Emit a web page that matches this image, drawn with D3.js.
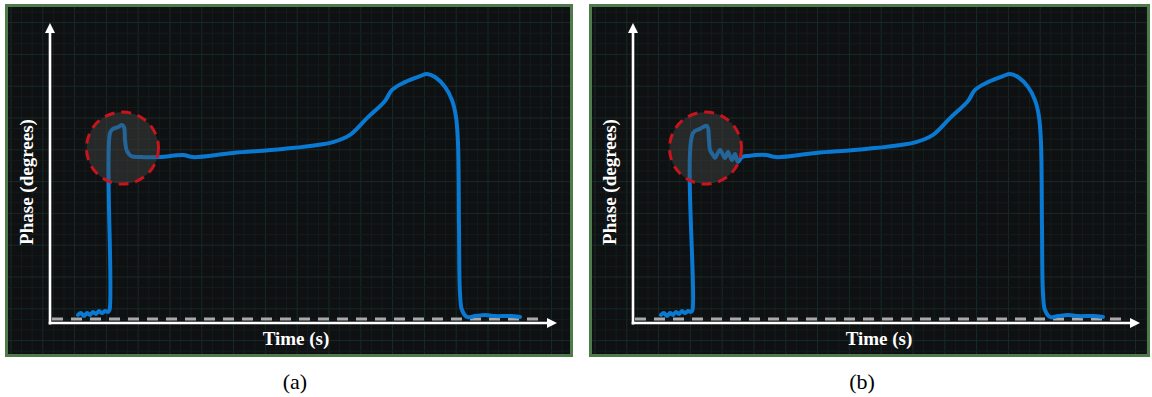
<!DOCTYPE html>
<html>
<head>
<meta charset="utf-8">
<script src="https://cdn.jsdelivr.net/npm/d3@7"></script>
<style>
  html, body { margin: 0; padding: 0; background: #ffffff; }
  svg { display: block; }
</style>
</head>
<body>
<div id="chart"></div>
<script>
// values (time in arbitrary s, phase in arbitrary degrees)
const leadTime  = [2.8, 3.1, 3.4, 3.7, 4.0, 4.3, 4.6, 4.9, 5.2, 5.5, 5.8, 5.95];
const leadPhase = [2.7, 3.3, 2.3, 3.3, 2.7, 3.7, 3.0, 4.0, 3.3, 4.0, 3.7, 4.3];

// onset spike, panel (a): clean step
const spikeATime  = [6.0, 6.3, 6.8, 7.2, 7.4, 7.5, 7.7, 8.1, 9.0, 11.0];
const spikeAPhase = [63.3, 64.7, 65.3, 66.0, 65.3, 61.0, 57.3, 55.7, 55.3, 55.3];

// onset spike, panel (b): ringing after the step
const spikeBTime  = [6.0, 6.7, 7.4, 7.6, 7.7, 8.0, 8.2, 8.7, 9.2, 9.5, 9.9, 10.2, 10.5, 10.9, 11.5];
const spikeBPhase = [63.3, 64.7, 65.7, 61.0, 57.7, 56.0, 55.0, 57.7, 55.0, 57.0, 54.3, 56.3, 53.7, 55.3, 55.7];

// plateau, peak and fall, shared by both panels
const bodyTime  = [13.3, 14.3, 18.3, 23.3, 28.3, 30.0, 31.7, 33.5, 34.2, 35.5, 37.0, 37.7, 38.5,
                   39.5, 40.2, 40.6, 40.8, 40.9, 41.0, 41.2, 41.7, 42.5, 43.5, 44.5, 46.0, 47.0];
const bodyPhase = [56.0, 55.3, 56.7, 58.0, 60.3, 62.7, 68.3, 74.0, 77.7, 80.3, 82.3, 83.0, 82.0,
                   78.7, 74.3, 68.7, 60.0, 32.0, 10.0, 4.3, 2.0, 2.3, 2.7, 2.3, 2.3, 2.0];

const baselinePhase = 1.3;
const baselineSpan = [0.2, 48.8];
const focus = { time: 7.25, phase: 58.3 };   // centre of the red highlight
const panelLabels = ["(a)", "(b)"];

const W = 1152, H = 397;
const svg = d3.select("#chart").append("svg")
    .attr("width", W)
    .attr("height", H);

const x = d3.scaleLinear().domain([0, 50.7]).range([50, 557]);
const y = d3.scaleLinear().domain([0, 100]).range([323, 23]);

const line = d3.line()
    .x(d => x(d[0]))
    .y(d => y(d[1]))
    .curve(d3.curveCatmullRom.alpha(0.5));

function zip(t, p) { return t.map((v, i) => [v, p[i]]); }

const panels = [
    { dx: 0,   left: 5, right: 573, spikeT: spikeATime, spikeP: spikeAPhase, label: panelLabels[0], labelX: 295 },
    { dx: 583, left: 6, right: 567, spikeT: spikeBTime, spikeP: spikeBPhase, label: panelLabels[1], labelX: 279 }
];

panels.forEach(function(p) {
    const g = svg.append("g").attr("transform", `translate(${p.dx},0)`);

    // dark background
    g.append("rect")
        .attr("x", p.left + 1.5).attr("y", 5.5)
        .attr("width", p.right - p.left - 3).attr("height", 350)
        .attr("fill", "#0f1011");

    // faint grid
    const grid = g.append("g");
    d3.range(p.left + 6, p.right - 2, 10.6).forEach(function(gx, i) {
        grid.append("line")
            .attr("x1", gx).attr("x2", gx).attr("y1", 7).attr("y2", 354)
            .attr("stroke", i % 3 === 0 ? "#172a29" : "#121d1d")
            .attr("stroke-width", 1);
    });
    d3.range(12, 354, 10.6).forEach(function(gy, i) {
        grid.append("line")
            .attr("x1", p.left + 3).attr("x2", p.right - 3).attr("y1", gy).attr("y2", gy)
            .attr("stroke", i % 3 === 1 ? "#172a29" : "#121d1d")
            .attr("stroke-width", 1);
    });

    // green frame
    g.append("rect")
        .attr("x", p.left + 1.5).attr("y", 5.5)
        .attr("width", p.right - p.left - 3).attr("height", 350)
        .attr("fill", "none")
        .attr("stroke", "#4f7a4a")
        .attr("stroke-width", 3);

    // baseline
    g.append("line")
        .attr("x1", x(baselineSpan[0])).attr("x2", x(baselineSpan[1]))
        .attr("y1", y(baselinePhase)).attr("y2", y(baselinePhase))
        .attr("stroke", "#a9a9a9")
        .attr("stroke-width", 3)
        .attr("stroke-dasharray", "11,8");

    // signal
    const pts = zip(leadTime, leadPhase)
        .concat(zip(p.spikeT, p.spikeP))
        .concat(zip(bodyTime, bodyPhase));
    g.append("path")
        .datum(pts)
        .attr("d", line)
        .attr("fill", "none")
        .attr("stroke", "#0a79d2")
        .attr("stroke-width", 4)
        .attr("stroke-linejoin", "round")
        .attr("stroke-linecap", "round");

    // highlight circle over the onset
    g.append("circle")
        .attr("cx", x(focus.time)).attr("cy", y(focus.phase))
        .attr("r", 36)
        .attr("fill", "#4a4a4a")
        .attr("fill-opacity", 0.42)
        .attr("stroke", "#c8141c")
        .attr("stroke-width", 3)
        .attr("stroke-dasharray", "10,6.8");

    // axes with arrow heads
    const x0 = x.range()[0], x1 = x.range()[1];
    const y0 = y.range()[0], y1 = y.range()[1];
    g.append("line")
        .attr("x1", x0).attr("x2", x0).attr("y1", y0 + 1.5).attr("y2", y1 + 8)
        .attr("stroke", "#fff").attr("stroke-width", 2.6);
    g.append("path")
        .attr("d", `M${x0},${y1} L${x0 - 5},${y1 + 10} L${x0 + 5},${y1 + 10} Z`)
        .attr("fill", "#fff");
    g.append("line")
        .attr("x1", x0 - 1.3).attr("x2", x1 - 8).attr("y1", y0).attr("y2", y0)
        .attr("stroke", "#fff").attr("stroke-width", 2.6);
    g.append("path")
        .attr("d", `M${x1},${y0} L${x1 - 10},${y0 - 5} L${x1 - 10},${y0 + 5} Z`)
        .attr("fill", "#fff");

    // axis titles
    g.append("text")
        .attr("transform", "translate(33,182) rotate(-90)")
        .attr("text-anchor", "middle")
        .attr("font-family", "'Liberation Serif', 'Times New Roman', serif")
        .attr("font-weight", "bold")
        .attr("font-size", 19)
        .attr("fill", "#fff")
        .text("Phase (degrees)");
    g.append("text")
        .attr("x", 296).attr("y", 345)
        .attr("text-anchor", "middle")
        .attr("font-family", "'Liberation Serif', 'Times New Roman', serif")
        .attr("font-weight", "bold")
        .attr("font-size", 19)
        .attr("fill", "#fff")
        .text("Time (s)");

    // panel caption
    g.append("text")
        .attr("x", p.labelX).attr("y", 389)
        .attr("text-anchor", "middle")
        .attr("font-family", "'Liberation Serif', 'Times New Roman', serif")
        .attr("font-size", 22)
        .attr("fill", "#000")
        .text(p.label);
});
</script>
</body>
</html>
